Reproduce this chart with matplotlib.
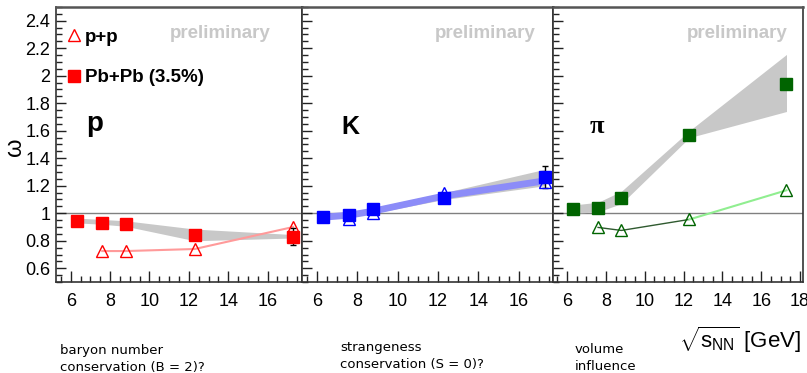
import numpy as np
import matplotlib.pyplot as plt
from matplotlib.ticker import MultipleLocator

plt.rcParams['font.family'] = ['Liberation Sans', 'DejaVu Sans']
plt.rcParams['mathtext.fontset'] = 'custom'
plt.rcParams['mathtext.rm'] = 'Liberation Sans'
plt.rcParams['mathtext.it'] = 'Liberation Sans:italic'

# energies (sqrt(s_NN) in GeV)
energy = [6.3, 7.6, 8.8, 12.3, 17.3]
energy_pp = [7.6, 8.8, 12.3, 17.3]

# protons
p_pbpb = [0.94, 0.93, 0.92, 0.84, 0.83]
p_pbpb_err = [0, 0, 0, 0, 0.06]
p_pp = [0.725, 0.725, 0.74, 0.90]
p_band_hi = [0.965, 0.955, 0.945, 0.885, 0.845]
p_band_lo = [0.93, 0.92, 0.905, 0.80, 0.82]

# kaons
k_pbpb = [0.975, 0.99, 1.03, 1.11, 1.265]
k_pbpb_err = [0, 0, 0, 0, 0.08]
k_pp = [0.96, 1.00, 1.15, 1.225]
k_band_hi = [0.99, 1.00, 1.04, 1.15, 1.32]
k_band_lo = [0.965, 0.975, 1.00, 1.10, 1.20]
k_model = [0.975, 0.99, 1.02, 1.13, 1.24]

# pions
pi_pbpb = [1.03, 1.04, 1.11, 1.57, 1.94]
pi_pp = [0.897, 0.875, 0.955, 1.167]
pi_band_hi = [1.06, 1.08, 1.16, 1.60, 2.155]
pi_band_lo = [1.00, 1.01, 1.07, 1.55, 1.74]

fig = plt.figure(figsize=(8.07, 3.73), dpi=100)
bot = 1 - 282 / 373
hgt = (282 - 7) / 373
W = 807
ax1 = fig.add_axes([56 / W, bot, 246 / W, hgt])
ax2 = fig.add_axes([302 / W, bot, 251 / W, hgt])
ax3 = fig.add_axes([553 / W, bot, 250 / W, hgt])
axes = [ax1, ax2, ax3]

band_col = '#c8c8c8'

# p panel
ax1.fill_between(energy, p_band_lo, p_band_hi, color=band_col, lw=0, zorder=1)
ax1.plot(energy_pp, p_pp, color='#ff9a9a', lw=1.5, zorder=2)
ax1.errorbar(energy, p_pbpb, yerr=p_pbpb_err, fmt='none', ecolor='black', elinewidth=1, capsize=2, zorder=3)
h_pb, = ax1.plot(energy, p_pbpb, 's', color='#ff0000', ms=8, ls='none', zorder=4)
h_pp, = ax1.plot(energy_pp, p_pp, '^', mfc='none', mec='#ff0000', mew=1, ms=9, ls='none', zorder=4)

# K panel
ax2.fill_between(energy, k_band_lo, k_band_hi, color=band_col, lw=0, zorder=1)
ax2.fill_between(energy, np.array(k_model) - 0.025, np.array(k_model) + 0.025, color='#8c8cf8', lw=0, zorder=2)
ax2.errorbar(energy, k_pbpb, yerr=k_pbpb_err, fmt='none', ecolor='black', elinewidth=1, capsize=2, zorder=3)
ax2.plot(energy_pp, k_pp, '^', mfc='none', mec='#0000ff', mew=1, ms=9, ls='none', zorder=4)
ax2.plot(energy, k_pbpb, 's', color='#0000ff', ms=8, ls='none', zorder=4)

# pi panel
ax3.fill_between(energy, pi_band_lo, pi_band_hi, color=band_col, lw=0, zorder=1)
ax3.plot(energy_pp[:3], pi_pp[:3], color='#2f5a2f', lw=1, zorder=2)
ax3.plot(energy_pp[2:], pi_pp[2:], color='#90ee90', lw=1.5, zorder=2)
ax3.plot(energy_pp, pi_pp, '^', mfc='none', mec='#006400', mew=1, ms=9, ls='none', zorder=4)
ax3.plot(energy, pi_pbpb, 's', color='#006400', ms=8, ls='none', zorder=4)

xlims = [(5.25, 17.75), (5.26, 17.7), (5.28, 18.15)]
prelim_x = [0.667, 0.729, 0.736]
for ax, xl, px in zip(axes, xlims, prelim_x):
    ax.set_xlim(xl)
    ax.set_ylim(0.5, 2.5)
    ax.axhline(1, color='#808080', lw=1, zorder=0)
    ax.xaxis.set_major_locator(MultipleLocator(2))
    ax.xaxis.set_minor_locator(MultipleLocator(0.5))
    ax.yaxis.set_major_locator(MultipleLocator(0.2))
    ax.yaxis.set_minor_locator(MultipleLocator(0.05))
    ax.tick_params(which='both', direction='in', top=False, right=False, color='#222222', width=1)
    ax.tick_params(which='major', length=8, labelsize=13, pad=8)
    ax.tick_params(which='minor', length=4)
    ax.tick_params(axis='y', which='major', length=7, pad=4)
    for s in ax.spines.values():
        s.set_color('#333333')
        s.set_linewidth(1.2)
    ax.spines['top'].set_color('#555555')
    ax.spines['top'].set_linewidth(1.8)
    ax.text(px, 0.905, 'preliminary', transform=ax.transAxes, ha='center', va='center',
            color='#c8c8c8', fontsize=13.5, fontweight='bold')

ax1.yaxis.set_major_formatter(plt.FuncFormatter(lambda v, p: f'{v:g}'))
ax2.tick_params(labelleft=False)
ax3.tick_params(labelleft=False)

fig.text(15 / W, 1 - 147 / 373, 'ω', rotation=90, ha='center', va='center', fontsize=17)

ax1.legend([h_pp, h_pb], ['p+p', 'Pb+Pb (3.5%)'], loc='upper left', bbox_to_anchor=(-0.005, 0.955),
           frameon=False, handlelength=1.0, handletextpad=0.1, labelspacing=1.25, borderpad=0,
           prop={'weight': 'bold', 'size': 13.5})

ax1.text(0.159, 0.574, 'p', transform=ax1.transAxes, ha='center', va='center', fontsize=20, fontweight='bold')
ax2.text(0.191, 0.564, 'K', transform=ax2.transAxes, ha='center', va='center', fontsize=18, fontweight='bold')
ax3.text(0.176, 0.567, 'π', transform=ax3.transAxes, ha='center', va='center', fontsize=19,
         family='Liberation Serif', fontweight='bold')

fig.text(801 / W, 1 - 340 / 373, r'$\sqrt{\mathrm{s}_{\mathrm{NN}}}$ [GeV]', ha='right', va='center', fontsize=16)

fig.text(60 / W, 1 - 359 / 373, 'baryon number\nconservation (B = 2)?', ha='left', va='center',
         fontsize=9.5, family='DejaVu Sans', linespacing=1.4)
fig.text(340 / W, 1 - 356 / 373, 'strangeness\nconservation (S = 0)?', ha='left', va='center',
         fontsize=9.5, family='DejaVu Sans', linespacing=1.4)
fig.text(575 / W, 1 - 358 / 373, 'volume\ninfluence', ha='left', va='center',
         fontsize=9.5, family='DejaVu Sans', linespacing=1.4)

fig.savefig('out.png', dpi=100)
